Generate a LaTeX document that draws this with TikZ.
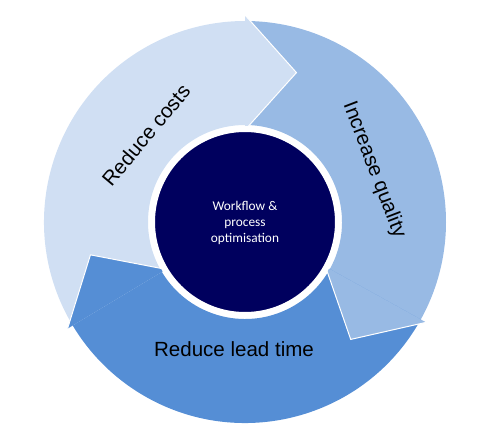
\documentclass[tikz,border=0pt]{standalone}
\usepackage{fontspec}
\setmainfont{Liberation Sans}
\newfontfamily\hubfont{Carlito}
\usepackage{xcolor}
\definecolor{costBlue}{HTML}{D0DFF3}
\definecolor{qualityBlue}{HTML}{98BAE4}
\definecolor{leadBlue}{HTML}{558ED5}
\definecolor{hubNavy}{HTML}{00005E}

\begin{document}
\begin{tikzpicture}[x=0.75pt,y=0.75pt,yscale=-1,xscale=1]
    %set diagram left start at 0, width 497 and height 442
    \useasboundingbox (0,0) rectangle (497,442);

    \begin{scope}[shift={(245,222)}]
    %Shape: Arc body [id:costs]
    \fill [costBlue] (149:201) arc [start angle=149, end angle=270, radius=201] -- (270:97) arc [start angle=270, end angle=149, radius=97] -- cycle;
    %Shape: Arc body [id:quality]
    \fill [qualityBlue] (-90:201) arc [start angle=-90, end angle=29, radius=201] -- (29:97) arc [start angle=29, end angle=-90, radius=97] -- cycle;
    %Shape: Arc body [id:lead]
    \fill [leadBlue] (29:201) arc [start angle=29, end angle=149, radius=201] -- (149:97) arc [start angle=149, end angle=29, radius=97] -- cycle;

    %Shape: Arrow head [id:costs]
    \fill [costBlue] (270:207) -- (289:158) -- (270:92) -- cycle;
    \draw [white, line width=0.75] (270:207) -- (289:158) -- (270:92);
    %Shape: Arrow head [id:quality]
    \fill [qualityBlue] (29:207) -- (48:158) -- (29:92) -- cycle;
    \draw [white, line width=0.75] (29:207) -- (48:158) -- (29:92);
    %Shape: Arrow head [id:lead]
    \fill [leadBlue] (149:207) -- (168:158) -- (149:92) -- cycle;
    \draw [white, line width=0.75] (149:207) -- (168:158) -- (149:92);

    %Shape: Circle [id:hub]
    \draw [white, fill=hubNavy, line width=4.5] (0,0) circle [radius=93];
    \end{scope}

    % Text Node
    \draw (146,135) node [rotate=50, font=\fontsize{15.4}{18}\selectfont] (costs) {Reduce costs};
    % Text Node
    \draw (374,170) node [rotate=-69, font=\fontsize{15.4}{18}\selectfont] (quality) {Increase quality};
    % Text Node
    \draw (234,357) node [anchor=base, font=\fontsize{15.4}{18}\selectfont] (lead) {Reduce lead time};
    % Text Node
    \draw (245,223) node [text=white, align=center, font=\hubfont\fontsize{10}{12}\selectfont] (hub) {Workflow \&\\process\\optimisation};

\end{tikzpicture}
\end{document}
